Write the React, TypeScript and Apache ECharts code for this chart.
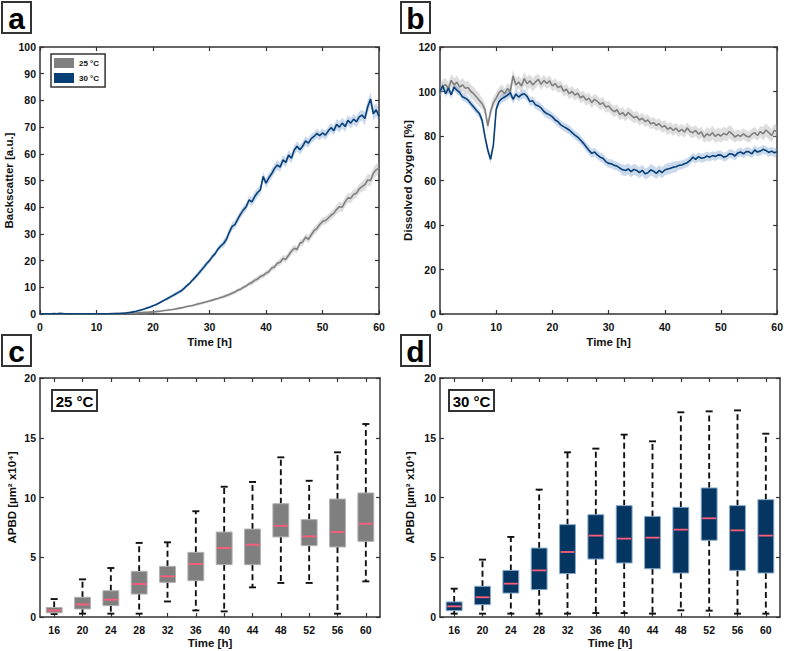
import React, { useEffect, useRef } from "react";
import * as echarts from "echarts";

const FONT = 'Arial, "Liberation Sans", sans-serif';

// Sampling grid of the bioreactor time series (h)
const TIMES: number[] = Array.from({ length: 121 }, (_, i) => i * 0.5);

// Panel a: backscatter [a.u.]
const BS_25: number[] = [
  0.1, 0.1, 0.0, 0.1, 0.1, 0.1, 0.0, 0.1, 0.1, 0.0, 0.1, 0.1, 0.0, 0.1, 0.1, 0.1, 0.0, 0.1, 0.1, 0.1, 0.1,
  0.1, 0.1, 0.1, 0.1, 0.2, 0.1, 0.2, 0.2, 0.2, 0.3, 0.3, 0.3, 0.4, 0.4, 0.5, 0.5, 0.6, 0.6, 0.7, 0.8,
  0.9, 1.0, 1.1, 1.3, 1.4, 1.6, 1.7, 1.9, 2.1, 2.3, 2.5, 2.8, 3.0, 3.2, 3.5, 3.8, 4.0, 4.3, 4.6, 4.9,
  5.2, 5.5, 5.8, 6.2, 6.5, 6.9, 7.3, 7.8, 8.2, 8.9, 9.3, 10.0, 10.5, 11.3, 11.8, 12.6, 13.1, 14.0, 14.4, 15.3,
  15.8, 17.2, 17.6, 19.0, 19.4, 20.8, 20.5, 22.0, 23.5, 24.6, 24.2, 26.5, 27.0, 28.8, 28.0, 29.6, 31.2, 32.0, 33.5, 34.6,
  35.0, 35.9, 37.0, 37.7, 39.2, 40.2, 40.0, 42.0, 43.5, 43.3, 44.8, 45.2, 46.9, 47.7, 48.5, 50.2, 50.0, 52.7, 54.0, 54.5,
];
const BS_30: number[] = [
  0.1, 0.1, 0.1, 0.1, 0.1, 0.2, 0.1, 0.3, 0.2, 0.1, 0.1, 0.1, 0.1, 0.1, 0.1, 0.1, 0.1, 0.1, 0.1, 0.1, 0.1,
  0.1, 0.1, 0.1, 0.1, 0.1, 0.2, 0.2, 0.2, 0.3, 0.3, 0.5, 0.6, 0.8, 1.0, 1.3, 1.6, 1.9, 2.3, 2.6, 3.1,
  3.5, 4.0, 4.6, 5.2, 5.7, 6.3, 6.9, 7.5, 8.1, 8.7, 9.6, 10.6, 11.5, 12.7, 13.8, 15.0, 16.3, 17.5, 18.9, 20.0,
  21.5, 22.6, 24.3, 25.5, 26.4, 28.0, 30.6, 32.8, 33.5, 35.5, 37.4, 39.0, 40.2, 42.7, 42.0, 44.0, 45.5, 46.5, 51.5, 49.0,
  51.0, 52.5, 54.5, 55.8, 55.0, 57.7, 56.8, 59.5, 58.3, 61.4, 62.8, 61.5, 62.9, 64.8, 64.0, 65.7, 66.5, 67.6, 66.8, 67.8,
  67.0, 68.5, 69.8, 68.7, 71.0, 70.0, 71.5, 70.2, 72.5, 71.5, 73.0, 72.0, 73.8, 74.5, 73.2, 77.6, 80.5, 75.0, 76.5, 74.0,
];
// band half-widths, one value per 5 h (0, 5, ..., 60)
const BS_25_SD: number[] = [0.1, 0.1, 0.1, 0.2, 0.3, 0.4, 0.5, 0.7, 1.0, 1.3, 1.5, 1.8, 2.2];
const BS_30_SD: number[] = [0.1, 0.1, 0.1, 0.2, 0.4, 0.7, 1.0, 1.5, 1.8, 1.8, 1.7, 2.0, 2.5];

// Panel b: dissolved oxygen [%]
const DO_25: number[] = [
  100.5, 102.5, 103.0, 101.2, 105.0, 103.0, 104.2, 102.0, 103.0, 101.5, 101.8, 100.0, 99.0, 97.5, 96.0, 94.5, 92.0, 84.5, 91.0, 95.0, 97.0,
  99.5, 100.6, 99.0, 101.3, 100.0, 107.0, 103.0, 104.3, 102.5, 105.8, 103.5, 104.8, 103.0, 104.3, 105.5, 103.2, 105.0, 103.6, 104.8, 102.5,
  103.5, 101.8, 102.5, 100.2, 101.0, 99.0, 100.0, 98.4, 99.3, 97.2, 98.0, 96.1, 97.0, 95.0, 96.5, 95.6, 94.2, 95.0, 93.0, 93.5,
  92.0, 90.9, 91.8, 89.6, 90.5, 89.0, 90.5, 89.4, 88.2, 88.8, 87.2, 88.0, 86.5, 87.2, 85.5, 86.0, 84.8, 85.5, 84.0, 84.6,
  83.0, 83.8, 82.5, 83.5, 82.0, 83.0, 81.8, 83.6, 82.0, 81.5, 82.5, 80.8, 81.8, 79.5, 81.0, 80.2, 81.5, 79.8, 80.8, 80.0,
  81.2, 80.5, 82.0, 81.0, 79.5, 80.5, 79.8, 81.0, 80.0, 79.5, 80.8, 81.5, 80.2, 82.0, 81.0, 82.7, 81.5, 80.2, 82.5, 82.0,
];
const DO_30: number[] = [
  100.0, 102.5, 99.0, 101.5, 98.5, 102.0, 100.6, 99.5, 97.6, 97.0, 96.1, 94.5, 93.0, 91.5, 90.1, 87.0, 79.7, 73.7, 69.5, 76.0, 92.0,
  95.5, 96.8, 97.5, 98.3, 99.5, 96.5, 98.8, 97.5, 98.6, 99.0, 97.8, 95.5, 95.8, 94.0, 93.5, 92.6, 91.0, 90.1, 89.5, 88.6,
  87.2, 86.4, 85.0, 84.2, 83.5, 82.7, 81.5, 80.4, 79.5, 78.2, 76.8, 75.2, 73.6, 72.2, 72.8, 71.5, 70.5, 70.0, 68.5, 67.7,
  67.5, 66.8, 66.5, 65.6, 64.8, 64.5, 65.2, 64.0, 65.0, 64.5, 63.5, 64.6, 63.0, 63.5, 64.8, 64.2, 63.2, 64.5, 63.5, 64.7,
  65.2, 65.5, 66.0, 66.2, 66.8, 67.0, 67.5, 68.0, 69.0, 70.5, 69.5, 70.7, 70.0, 70.2, 71.0, 70.5, 71.2, 70.8, 71.5, 71.4,
  70.5, 70.9, 72.0, 71.9, 71.0, 72.4, 72.8, 72.0, 73.0, 72.9, 72.0, 73.7, 72.8, 73.2, 74.0, 73.5, 72.6, 73.2, 72.5, 72.9,
];
const DO_25_SD: number[] = [3.0, 3.0, 2.5, 3.0, 2.5, 2.5, 2.5, 2.5, 2.5, 2.5, 3.0, 2.5, 3.0];
const DO_30_SD: number[] = [1.8, 1.8, 2.0, 2.0, 2.0, 2.0, 2.0, 2.5, 2.5, 2.0, 2.0, 2.0, 2.0];

// Panels c/d: APBD boxplots [low whisker, Q1, median, Q3, high whisker]
const BOX_TIMES: string[] = ["16", "20", "24", "28", "32", "36", "40", "44", "48", "52", "56", "60"];
const APBD_25: number[][] = [
  [0.25, 0.35, 0.55, 0.8, 1.5],
  [0.28, 0.67, 1.05, 1.65, 3.15],
  [0.28, 0.95, 1.45, 2.2, 4.1],
  [0.28, 1.92, 2.76, 3.82, 6.2],
  [1.3, 2.9, 3.4, 4.24, 6.25],
  [0.55, 3.04, 4.43, 5.41, 8.85],
  [0.47, 4.38, 5.77, 7.11, 10.9],
  [2.48, 4.38, 6.05, 7.36, 11.3],
  [2.85, 6.7, 7.64, 9.48, 13.36],
  [2.85, 5.97, 6.75, 8.15, 11.4],
  [0.28, 5.86, 7.11, 9.87, 13.78],
  [2.98, 6.33, 7.81, 10.38, 16.15],
];
const APBD_30: number[][] = [
  [0.28, 0.53, 0.89, 1.26, 2.37],
  [0.28, 1.03, 1.65, 2.57, 4.8],
  [0.28, 2.0, 2.79, 3.9, 6.7],
  [0.28, 2.29, 3.9, 5.77, 10.66],
  [0.28, 3.63, 5.44, 7.73, 13.78],
  [0.33, 4.85, 6.81, 8.56, 14.09],
  [0.33, 4.52, 6.56, 9.32, 15.26],
  [0.28, 4.04, 6.64, 8.42, 14.7],
  [0.56, 3.68, 7.31, 9.18, 17.13],
  [0.53, 6.42, 8.26, 10.8, 17.21],
  [0.28, 3.9, 7.25, 9.32, 17.29],
  [0.28, 3.68, 6.81, 9.82, 15.34],
];

const GRAY = "#808080";
const BLUE = "#073f76";
const GRAY_BAND = "rgba(160,160,160,0.35)";
const BLUE_BAND = "rgba(90,140,195,0.32)";
const MEDIAN = "#ff5c7a";
const AXIS = "#333333";

const titleStyle = { color: "#111", fontSize: 11.5, fontWeight: "bold", fontFamily: FONT };
const axisLine = { show: true, onZero: false, lineStyle: { color: AXIS, width: 1.5 } };
const tickIn = { show: true, inside: true, length: 4, lineStyle: { color: AXIS, width: 1.2 } };
const tickLabel = { show: true, color: "#111", fontSize: 10.5, fontWeight: "bold", fontFamily: FONT };

function valueX(grid: number, withLabel: boolean, gap: number) {
  return {
    type: "value", gridIndex: grid, min: 0, max: 60, interval: 10,
    position: withLabel ? "bottom" : "top",
    axisLine, axisTick: tickIn, splitLine: { show: false },
    axisLabel: withLabel ? { ...tickLabel, margin: 7 } : { show: false },
    name: withLabel ? "Time [h]" : "", nameLocation: "middle", nameGap: gap, nameTextStyle: titleStyle,
  };
}
function catX(grid: number, withLabel: boolean) {
  return {
    type: "category", gridIndex: grid, data: BOX_TIMES, boundaryGap: true,
    position: withLabel ? "bottom" : "top",
    axisLine, axisTick: { ...tickIn, alignWithLabel: true }, splitLine: { show: false },
    axisLabel: withLabel ? { ...tickLabel, margin: 7 } : { show: false },
    name: withLabel ? "Time [h]" : "", nameLocation: "middle", nameGap: 20, nameTextStyle: titleStyle,
  };
}
function valueY(grid: number, left: boolean, max: number, interval: number, name: string, gap: number) {
  return {
    type: "value", gridIndex: grid, min: 0, max, interval,
    position: left ? "left" : "right",
    axisLine, axisTick: tickIn, splitLine: { show: false },
    axisLabel: left ? { ...tickLabel, margin: 4 } : { show: false },
    name: left ? name : "", nameLocation: "middle", nameGap: gap, nameTextStyle: titleStyle,
  };
}

function bandSeries(xi: number, yi: number, vals: number[], sd: number[], fill: string) {
  return {
    type: "custom", xAxisIndex: xi, yAxisIndex: yi, silent: true, z: 1,
    data: [[0, vals[0]]],
    renderItem: (_p: any, api: any) => {
      const upper = TIMES.map((t, i) => api.coord([t, vals[i] + sd[Math.round(t / 5)]]));
      const lower = TIMES.map((t, i) => api.coord([t, Math.max(0, vals[i] - sd[Math.round(t / 5)])])).reverse();
      return { type: "polygon", shape: { points: upper.concat(lower) }, style: { fill } };
    },
  };
}
function lineSeries(xi: number, yi: number, name: string, vals: number[], color: string) {
  return {
    type: "line", name, xAxisIndex: xi, yAxisIndex: yi, z: 3,
    data: TIMES.map((t, i) => [t, vals[i]]),
    showSymbol: false, symbol: "none",
    lineStyle: { color, width: 1.6 }, itemStyle: { color },
  };
}
function boxSeries(xi: number, yi: number, stats: number[][], fill: string, edge: string) {
  return {
    type: "custom", xAxisIndex: xi, yAxisIndex: yi, z: 3,
    data: stats.map((s, i) => [i, ...s]),
    encode: { x: 0, y: [1, 2, 3, 4, 5] },
    renderItem: (_p: any, api: any) => {
      const idx = api.value(0);
      const lo = api.coord([idx, api.value(1)]);
      const q1 = api.coord([idx, api.value(2)]);
      const md = api.coord([idx, api.value(3)]);
      const q3 = api.coord([idx, api.value(4)]);
      const hi = api.coord([idx, api.value(5)]);
      const bw = api.size([1, 0])[0];
      const w = bw * 0.56;
      const cw = 7;
      const cx = lo[0];
      const dash = { stroke: "#111", lineWidth: 1.9, lineDash: [6, 3.5] };
      const solid = { stroke: "#111", lineWidth: 1.9 };
      return {
        type: "group",
        children: [
          { type: "line", shape: { x1: cx, y1: q3[1], x2: cx, y2: hi[1] }, style: dash },
          { type: "line", shape: { x1: cx, y1: q1[1], x2: cx, y2: lo[1] }, style: dash },
          { type: "line", shape: { x1: cx - cw / 2, y1: hi[1], x2: cx + cw / 2, y2: hi[1] }, style: solid },
          { type: "line", shape: { x1: cx - cw / 2, y1: lo[1], x2: cx + cw / 2, y2: lo[1] }, style: solid },
          { type: "rect", shape: { x: cx - w / 2, y: q3[1], width: w, height: q1[1] - q3[1] }, style: { fill, stroke: edge, lineWidth: 1 } },
          { type: "line", shape: { x1: cx - w / 2 + 1, y1: md[1], x2: cx + w / 2 - 1, y2: md[1] }, style: { stroke: MEDIAN, lineWidth: 1.8 } },
        ],
      };
    },
  };
}

function panelLabel(x: number, y: number, letter: string) {
  return {
    type: "group", left: x, top: y,
    children: [
      { type: "rect", shape: { x: 0, y: 0, width: 29, height: 31 }, style: { fill: "#fff", stroke: "#333", lineWidth: 2 } },
      { type: "text", x: 14.5, y: 16, style: { text: letter, fill: "#000", font: `bold 30px ${FONT}`, align: "center", verticalAlign: "middle" } },
    ],
  };
}
function tempLabel(x: number, y: number, txt: string) {
  return {
    type: "group", left: x, top: y,
    children: [
      { type: "rect", shape: { x: 0, y: 0, width: 45, height: 21 }, style: { fill: "#fff", stroke: "#333", lineWidth: 2 } },
      { type: "text", x: 22.5, y: 11, style: { text: txt, fill: "#000", font: `bold 15px ${FONT}`, align: "center", verticalAlign: "middle" } },
    ],
  };
}

export default function App() {
  const ref = useRef<HTMLDivElement>(null);
  useEffect(() => {
    if (!ref.current) return;
    const chart = echarts.init(ref.current, undefined, { renderer: "svg" });
    chart.setOption({
      animation: false,
      backgroundColor: "#fff",
      grid: [
        { left: 40, top: 47, width: 339, height: 267 },
        { left: 440, top: 47, width: 340, height: 267 },
        { left: 40, top: 378, width: 340, height: 239 },
        { left: 440, top: 378, width: 340, height: 239 },
      ],
      xAxis: [
        valueX(0, true, 22), valueX(0, false, 0),
        valueX(1, true, 22), valueX(1, false, 0),
        catX(2, true), catX(2, false),
        catX(3, true), catX(3, false),
      ],
      yAxis: [
        valueY(0, true, 100, 10, "Backscatter [a.u.]", 24), valueY(0, false, 100, 10, "", 0),
        valueY(1, true, 120, 20, "Dissolved Oxygen [%]", 26), valueY(1, false, 120, 20, "", 0),
        valueY(2, true, 20, 5, "APBD [µm² x10⁴]", 22), valueY(2, false, 20, 5, "", 0),
        valueY(3, true, 20, 5, "APBD [µm² x10⁴]", 24), valueY(3, false, 20, 5, "", 0),
      ],
      legend: {
        data: ["25 °C", "30 °C"],
        orient: "vertical", left: 51, top: 54,
        icon: "rect", itemWidth: 20, itemHeight: 10, itemGap: 5,
        padding: [4, 6, 4, 3],
        backgroundColor: "#fff", borderColor: "#333", borderWidth: 1.5,
        textStyle: { fontSize: 8, fontWeight: "bold", fontFamily: FONT, color: "#111" },
        selectedMode: false,
        z: 10,
      },
      series: [
        bandSeries(0, 0, BS_25, BS_25_SD, GRAY_BAND),
        bandSeries(0, 0, BS_30, BS_30_SD, BLUE_BAND),
        lineSeries(0, 0, "25 °C", BS_25, GRAY),
        lineSeries(0, 0, "30 °C", BS_30, BLUE),
        bandSeries(2, 2, DO_25, DO_25_SD, GRAY_BAND),
        bandSeries(2, 2, DO_30, DO_30_SD, BLUE_BAND),
        lineSeries(2, 2, "25 °C", DO_25, GRAY),
        lineSeries(2, 2, "30 °C", DO_30, BLUE),
        boxSeries(4, 4, APBD_25, "#7f7f7f", "#b0b0b0"),
        boxSeries(6, 6, APBD_30, "#053561", "#86a9cc"),
      ],
      graphic: [
        panelLabel(1, 1, "a"),
        panelLabel(400, 1, "b"),
        panelLabel(1, 334, "c"),
        panelLabel(400, 334, "d"),
        tempLabel(51, 389, "25 °C"),
        tempLabel(448, 389, "30 °C"),
      ],
    });
    return () => chart.dispose();
  }, []);
  return <div ref={ref} style={{ position: "absolute", left: 0, top: 0, width: 786, height: 651 }} />;
}
